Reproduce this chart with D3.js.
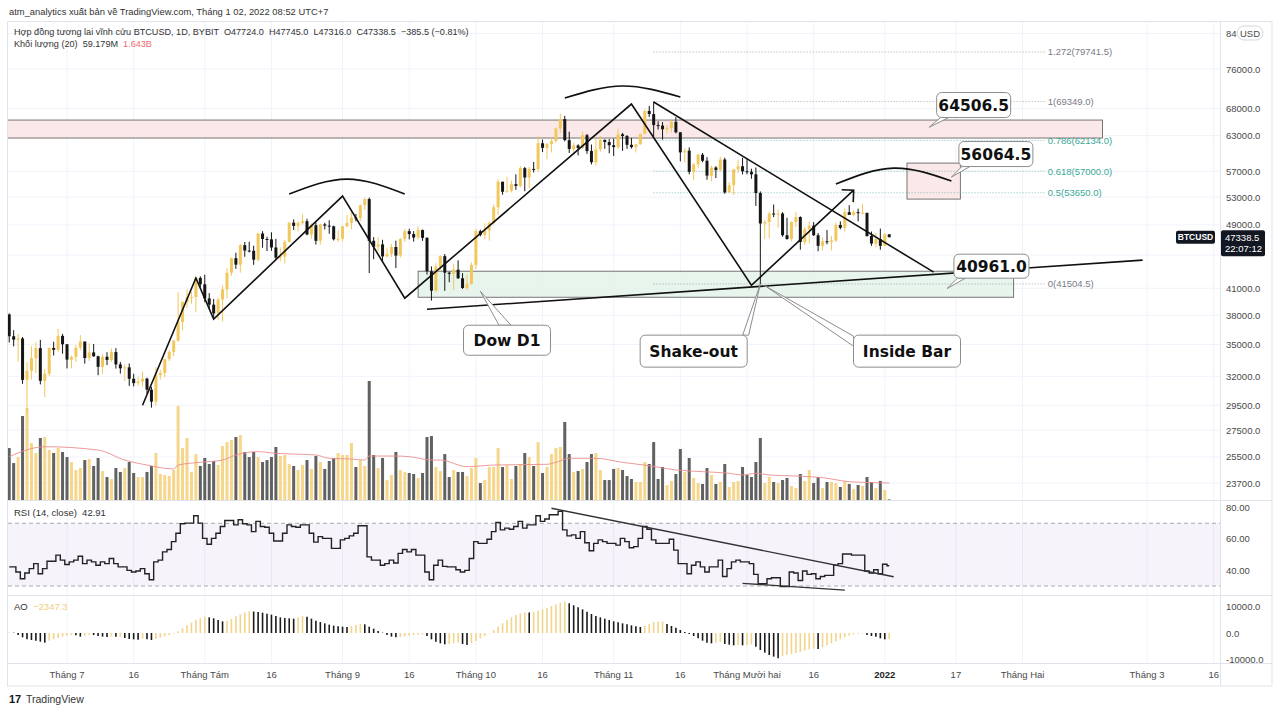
<!DOCTYPE html>
<html>
<head>
<meta charset="utf-8">
<script src="https://cdn.jsdelivr.net/npm/d3@7/dist/d3.min.js"></script>
<style>
  body { margin: 0; background: #fff; }
  svg { display: block; }
  text { font-family: "Liberation Sans", Arial, sans-serif; }
</style>
</head>
<body>
<svg id="chart" width="1280" height="713"></svg>
<script>
// ---- data (BTCUSD 1D, BYBIT) ----
const firstDay = "2021-06-18";

// [open, high, low, close] per day
const candles = [
  // Jun
  [38090,38200,35200,35820],[35820,36440,34820,35480],[35480,36060,33350,35600],[35600,35740,31330,31680],
  [31680,33300,28800,32500],[32500,34840,31700,33680],[33680,35230,32300,34640],[34640,35460,31280,31600],
  [31600,32680,30180,32240],[32240,34710,32000,34660],[34660,35270,33930,34480],[34480,36570,34270,35860],
  [35860,36050,34100,35020],
  // Jul
  [35020,35030,32720,33540],[33540,33940,32730,33800],[33800,34950,33330,34680],[34680,35940,34410,35290],
  [35290,35290,33160,33690],[33690,35110,33420,34230],[34230,35050,33800,33860],[33860,33910,32100,32870],
  [32870,34070,32260,33810],[33810,34250,33030,33510],[33510,34600,33330,34260],[34260,34640,32700,33090],
  [33090,33320,32250,32730],[32730,33100,31600,32820],[32820,33180,31150,31780],[31780,32230,31100,31390],
  [31390,31950,31170,31530],[31530,32430,31120,31790],[31790,31880,30450,30820],[30820,31060,29300,29800],
  [29800,32820,29480,32110],[32110,32590,31710,32310],[32310,33620,31900,33580],[33580,34480,33400,34280],
  [34280,35400,33880,35390],[35390,40550,35260,37280],[37280,39510,36450,39450],[39450,40890,38800,39990],
  [39990,40620,39250,40010],[40010,42300,38330,42210],[42210,42400,41150,41460],
  // Aug
  [41460,42600,39420,39850],[39850,40440,38700,39150],[39150,39780,37640,38190],[38190,39950,37520,39720],
  [39720,41340,37350,40870],[40870,43390,39850,42830],[42830,44700,42450,44620],[44620,45310,43300,43820],
  [43820,46450,42850,46290],[46290,46700,44800,45590],[45590,46750,45350,45560],[45560,46220,43800,44430],
  [44430,47880,44250,47830],[47830,48150,45960,47100],[47100,47400,45520,47050],[47050,48000,45560,45990],
  [45990,47120,44400,44700],[44700,46000,44220,44800],[44800,47000,43950,46720],[46720,49350,46640,49320],
  [49320,49770,48300,48870],[48870,49500,48120,49280],[49280,50500,49050,49520],[49520,49860,47600,47700],
  [47700,49220,47140,48960],[48960,49350,46370,46860],[46860,49170,46360,49080],[49080,49310,48380,48900],
  [48900,49650,47800,48810],[48810,48900,46900,47060],[47060,48240,46700,47130],
  // Sep
  [47130,48890,46790,48830],[48830,50370,48650,49280],[49280,51030,48400,50020],[50020,50550,49500,49940],
  [49940,51880,49500,51790],[51790,52900,51100,52700],[52700,52920,42800,46860],[46860,47350,44500,46080],
  [46080,47360,45500,46390],[46390,47000,44160,44850],[44850,45980,44730,45160],[45160,46460,44750,46050],
  [46050,46880,43400,44950],[44950,47250,44700,47100],[47100,48450,46700,48150],[48150,48480,47050,47760],
  [47760,48150,46760,47290],[47290,48800,47050,48300],[48300,48370,46850,47250],[47250,47340,42600,43010],
  [43010,43600,39600,40720],[40720,44000,40550,43580],[43580,44980,43090,44880],[44880,45150,40700,42840],
  [42840,42960,41700,42700],[42700,43920,40800,43200],[43200,44350,42100,42170],[42170,42780,40920,41030],
  [41030,42600,40780,41520],[41520,44100,41410,43790],
  // Oct
  [43790,48450,43300,48140],[48140,48360,47450,47660],[47660,49230,47100,48230],[48230,49500,46900,49250],
  [49250,51900,49050,51500],[51500,55750,50400,55340],[55340,55340,53350,53800],[53800,56100,53650,53960],
  [53960,55480,53700,54960],[54960,56500,54100,54690],[54690,57830,54450,57490],[57490,57680,53880,56000],
  [56000,57700,54300,57370],[57370,58500,56800,57350],[57350,62900,56850,61670],[61670,62300,60150,60880],
  [60880,61700,58950,61530],[61530,62650,60100,62040],[62040,64450,61800,64280],[64280,67000,63500,66000],
  [66000,66600,62000,62210],[62210,63700,60000,60690],[60690,61730,59700,61300],[61300,61480,59600,60860],
  [60860,63700,60700,63080],[63080,63300,59850,60330],[60330,61450,58100,58460],[58460,62500,57900,60590],
  [60590,62950,60200,62270],[62270,62300,60700,61880],[61880,62400,59950,61320],
  // Nov
  [61320,62450,59500,61000],[61000,64250,60700,63230],[63230,63500,60350,62930],[62930,63100,60700,61400],
  [61400,62600,60750,61000],[61000,61550,60100,61500],[61500,63300,61400,63300],[63300,67800,63300,67540],
  [67540,68500,66400,66950],[66950,69349,62800,64900],[64900,65600,64100,64810],[64810,65450,62300,64150],
  [64150,64950,63400,64380],[64380,65950,63600,65500],[65500,66350,63400,63600],[63600,63600,58600,60100],
  [60100,60800,58400,60400],[60400,60950,56500,56900],[56900,58350,55600,58100],[58100,59850,57450,59700],
  [59700,60000,58450,58700],[58700,59300,55650,56300],[56300,57900,55400,57600],[57600,57800,55900,57200],
  [57200,59400,57000,58900],[58900,59200,53500,53700],[53700,55300,53600,54800],[54800,57400,53300,57300],
  [57300,58900,56700,57800],[57800,59200,56500,57000],
  // Dec
  [57000,59100,56500,56900],[56900,57400,55800,56500],[56500,57600,51700,53600],[53600,53850,41504.5,49200],
  [49200,49700,47100,49400],[49400,50900,47200,50600],[50600,51900,50100,50500],[50500,51200,48600,50600],
  [50600,50800,47400,47600],[47600,50000,47000,47100],[47100,49500,46800,49400],[49400,50800,48700,50100],
  [50100,50200,45700,46700],[46700,48700,46300,48400],[48400,49500,46500,48900],[48900,49400,47500,47600],
  [47600,47900,45500,46200],[46200,47300,45600,46800],[46800,48300,46400,46700],[46700,47500,45600,46900],
  [46900,49300,46700,49000],[49000,49500,48400,48600],[48600,51300,48100,50800],[50800,51800,50500,50400],
  [50400,51100,50200,50800],[50800,51300,49500,50700],[50700,52000,50500,50700],[50700,50700,47400,47500],
  [47500,48100,46200,46500],[46500,47900,46000,47100],[47100,48500,45700,46200],
  // Jan
  [46200,47900,46200,47724],[47724,47745,47316,47338.5]
];

// daily volume, billions USD
const volumes = [
  5.02,3.57,4.15,8.12,8.89,5.51,4.54,5.99,6.09,4.83,4.54,5.02,4.64,
  4.15,3.67,2.90,3.09,3.86,3.96,3.29,4.06,2.80,2.22,2.03,3.09,2.71,3.09,3.67,2.61,2.22,2.22,2.71,3.29,4.54,2.51,2.42,2.32,2.90,9.08,5.02,5.99,2.71,4.44,3.29,
  4.06,3.48,3.77,3.38,5.22,5.60,5.80,6.09,6.28,4.64,4.15,4.64,4.15,3.67,3.86,4.15,5.12,4.25,4.35,3.48,3.29,2.90,3.38,3.86,3.00,4.25,3.67,3.00,3.77,4.06,4.54,
  4.35,4.35,5.51,3.19,3.86,3.29,11.5,4.35,3.09,4.06,1.93,2.42,4.64,2.90,2.71,2.61,2.51,2.13,2.61,6.09,6.18,3.19,2.80,4.44,2.22,2.90,2.71,2.71,2.32,3.09,
  4.06,1.64,1.93,3.19,3.19,5.02,3.19,3.38,2.03,3.29,3.48,4.54,4.15,3.29,5.60,2.61,3.19,4.44,5.02,5.12,7.54,4.44,2.71,2.80,3.00,3.67,4.44,4.54,2.90,1.93,1.93,
  3.00,3.09,2.90,2.32,2.03,1.74,1.74,3.67,3.48,5.60,2.03,3.19,1.45,1.84,2.51,4.93,2.71,4.06,2.13,1.64,1.55,3.09,2.42,1.55,1.74,3.48,1.26,1.74,1.84,3.19,
  2.42,2.22,3.67,5.99,1.64,2.22,1.74,1.64,1.93,2.13,1.35,1.16,2.51,1.84,2.90,1.64,2.22,1.16,1.74,1.74,1.64,1.26,1.84,1.55,1.06,1.45,1.35,2.22,1.74,1.16,1.84,
  0.97,0.059
];

// volume MA(20) read at [day index, billions]
const volumeMA = [
  [0,4.19],[8,5.15],[20,4.83],[26,3.86],[31,3.38],[37,3.0],[38,3.38],[43,3.64],[48,3.86],[51,4.35],
  [56,4.67],[60,4.51],[66,4.41],[69,4.35],[72,4.03],[77,3.96],[80,3.86],[81,4.25],[87,4.25],[90,4.19],
  [95,3.86],[97,3.86],[103,3.22],[109,3.38],[121,3.45],[123,3.64],[126,4.03],[132,4.03],[138,3.64],
  [144,3.31],[150,2.90],[156,2.74],[162,2.58],[165,2.42],[168,2.58],[171,2.42],[177,2.32],[183,2.16],
  [189,1.77],[195,1.67],[198,1.64]
];

// RSI(14, close) per day
const rsi = [
  42.2,42.2,38.9,34.6,38.3,41.1,44.3,37.8,41.1,45.8,45.8,49.7,46.5,
  43.7,45.4,46.5,49,44.3,46.5,45.4,43.2,45.4,44.3,47.5,44.3,42.2,42.2,40,38.9,39.6,41.1,37.8,34,45.4,46.5,51.8,53.3,58.3,63.7,69.7,70.1,70.1,74.8,70.1,
  60.4,56.6,60.4,63.7,68,71.8,71.8,69,72.3,69.7,69,64.7,71.2,68,67.5,63.7,58.7,58.7,63.7,69,68,67.5,69,69,63.7,58,61.5,60.4,60.4,54,54,
  59.4,60.4,62,63.7,68.4,68.4,48.6,46.5,46.5,43.2,44.3,46.5,44.7,50.8,53.3,51.8,53.3,49.7,49.7,38.9,34,43.2,46.5,42.5,42.2,42.2,40.4,38.9,40,47.5,
  58.3,57.2,57.2,59.8,64.7,70.5,65.8,66.9,66.2,68,71.2,66.9,69,69,74.8,71.2,72.7,75.5,75.5,77.6,65.8,62,62.6,60.4,64.7,57.6,52.5,57.2,59.4,58.3,57.2,
  57.2,56.1,60.4,58.3,54.4,55.1,60.4,68,66.2,59.4,57.2,57.2,57.2,59.8,52.9,44.3,44.3,37.8,43.2,45.4,42.2,38.9,42.2,42.2,46.5,36.1,41.1,45.4,46.5,45.4,
  45.4,44.3,37.4,31.4,31.4,34.6,35.3,35.3,29.7,29.7,38.9,38.3,33.5,39.6,37.4,37.8,34.6,36.1,36.8,36.8,43.2,44.3,50.4,50.4,49.7,49.7,49.7,39.6,38.3,40.4,37.8,
  43.9,42.91
];

// Awesome Oscillator per day
const ao = [
  250,130,-750,-1630,-2390,-2640,-2890,-3270,-3650,-2890,-2390,-1890,-1380,
  -1000,-750,-880,-1380,-1130,-630,-750,-1130,-1380,-1510,-1260,-1380,-1380,-1890,-2260,-2390,-2520,-2140,-2390,-2640,-2260,-1760,-1260,-750,-250,630,1760,2890,3900,4900,5660,
  6160,5910,5540,4900,4400,4650,5410,6290,7040,7670,8180,8100,7920,7670,7300,6920,6420,5910,5660,5540,5410,5910,6420,6160,5410,4650,4150,3650,3150,2770,2520,
  2390,2260,2640,3020,3400,3270,2390,1640,750,130,-750,-1380,-1640,-1510,-1260,-1000,-750,-630,-500,-1130,-2390,-3270,-3900,-4280,-4150,-3900,-3650,-4150,-4530,-3900,
  -3020,-2010,-1130,-130,1130,2390,3650,4900,5910,6790,7420,7800,7750,7920,8430,8930,9440,10190,10820,11450,11830,11200,10440,9690,8930,8050,7170,6420,5910,5410,4900,
  4400,4030,3650,3270,2890,2520,2260,2640,3400,4030,4280,4350,3400,2640,2010,1130,380,-380,-1130,-2010,-2890,-3650,-3900,-3650,-3400,-4150,-4400,-4650,-4530,-4650,
  -4530,-4280,-5160,-6420,-7420,-8300,-8930,-9500,-8680,-8300,-7920,-7550,-7170,-6670,-6160,-5910,-6040,-5410,-4650,-3900,-3150,-2390,-1640,-1000,-500,-250,-130,-750,-1130,-1380,-2010,
  -2390,-2347.3
];

// price grid levels; labels hidden behind the USD pill / last-price tag are shown as the reference shows them
const priceTicks = [84000, 76000, 68000, 63000, 57000, 53000, 49000, 45000, 41000, 38000, 35000, 32000, 29500, 27500, 25500, 23700];
const priceTickLabels = ["84", "76000.0", "68000.0", "63000.0", "57000.0", "53000.0", "49000.0", "", "41000.0", "38000.0", "35000.0", "32000.0", "29500.0", "27500.0", "25500.0", "23700.0"];
const timeTicks = [
  ["2021-07-01","Tháng 7"],["2021-07-16","16"],["2021-08-01","Tháng Tám"],["2021-08-16","16"],
  ["2021-09-01","Tháng 9"],["2021-09-16","16"],["2021-10-01","Tháng 10"],["2021-10-16","16"],
  ["2021-11-01","Tháng 11"],["2021-11-16","16"],["2021-12-01","Tháng Mười hai"],["2021-12-16","16"],
  ["2022-01-01","2022"],["2022-01-17","17"],["2022-02-01","Tháng Hai"],["2022-03-01","Tháng 3"],["2022-03-16","16"]
];
const rsiTicks = [80, 60, 40];
const aoTicks = [10000, 0, -10000];

// drawings, [date, price]
const zigzag = [["2021-07-18",29500],["2021-07-30",42200],["2021-08-03",37600],["2021-09-01",53150],
                ["2021-09-15",39870],["2021-11-05",68860],["2021-12-02",41350],["2021-12-25",54040]];
const trendDown = [["2021-11-10",69250],["2022-01-12",42900]];
const support = [["2021-09-20",38650],["2022-02-28",44380]];
const arcs = [
  [["2021-08-20",53450],["2021-09-02",55750],["2021-09-15",53450]],
  [["2021-10-21",70040],["2021-11-03",72440],["2021-11-16",70230]],
  [["2021-12-21",54970],["2022-01-03",57500],["2022-01-16",55440]]
];
const zones = [
  { from: "2021-06-01", to: "2022-02-19", lo: 62580, hi: 65830, kind: "red" },
  { from: "2021-09-18", to: "2022-01-30", lo: 39980, hi: 43020, kind: "green" },
  { from: "2022-01-06", to: "2022-01-18", lo: 52700, hi: 58320, kind: "red" }
];
const fibRange = ["2021-11-10", "2022-02-06"];
const fibLevels = [[1.272, 79741.5], [1, 69349.0], [0.786, 62134.0], [0.618, 57000.0], [0.5, 53650.0], [0, 41504.5]];
const callouts = [
  { text: "64506.5", at: ["2022-01-21", 68670], tail: ["2022-01-11", 64506.5] },
  { text: "56064.5", at: ["2022-01-26", 59820], tail: ["2022-01-16", 56064.5] },
  { text: "40961.0", at: ["2022-01-25", 43630], tail: ["2022-01-15", 40961.0] },
  { text: "Dow D1", at: ["2021-10-08", 35420], tail: ["2021-10-02", 40660] },
  { text: "Shake-out", at: ["2021-11-19", 34350], tail: ["2021-12-04", 41504.5] },
  { text: "Inside Bar", at: ["2022-01-06", 34350], tail: ["2021-12-05", 41300] }
];
const rsiLines = [
  [["2021-10-18", 79.6], ["2022-01-03", 35.9]],
  [["2021-11-30", 31.7], ["2021-12-23", 27.4]]
];

// ---- layout ----
const plot = { left: 8, right: 1220, top: 22, bottom: 500 };
const rsiPane = { top: 501, bottom: 595 };
const aoPane = { top: 596, bottom: 663 };
const axisEnd = 1272, frameBottom = 686;

const upColor = "#f2c75c", downColor = "#161616";
const volUp = "#f5d68a", volDown = "#616161";
const gridColor = "#f0f3fa", lineColor = "#e0e3eb", axisText = "#4a4a4a";

const parse = d3.utcParse("%Y-%m-%d");
const days = d3.utcDay.range(parse(firstDay), d3.utcDay.offset(parse(firstDay), candles.length));
const bars = days.map((d, i) => ({
  date: d, o: candles[i][0], h: candles[i][1], l: candles[i][2], c: candles[i][3],
  vol: volumes[i], rsi: rsi[i], ao: ao[i], aoUp: i === 0 ? true : ao[i] >= ao[i - 1]
}));

const x = d3.scaleUtc().domain([parse("2021-07-01"), parse("2022-03-01")]).range([67, 1147]);
const y = d3.scaleLog().domain([23700, 76000]).range([483, 69]);
const yVol = d3.scaleLinear().domain([0, 11.5]).range([500, 381]);
const yRsi = d3.scaleLinear().domain([30, 70]).range([586, 523.3]);
const yAo = d3.scaleLinear().domain([-10000, 10000]).range([659.5, 606.5]);
const px = p => [x(parse(p[0])), y(p[1])];

const svg = d3.select("#chart");
const defs = svg.append("defs");
function clip(id, y0, y1) {
  defs.append("clipPath").attr("id", id).append("rect")
    .attr("x", plot.left).attr("y", y0).attr("width", plot.right - plot.left).attr("height", y1 - y0);
}
clip("clipMain", plot.top, plot.bottom);
clip("clipRsi", rsiPane.top, rsiPane.bottom);
clip("clipAo", aoPane.top, aoPane.bottom);

// header
svg.append("text").attr("x", 9).attr("y", 15).style("font-size", "9.4px").style("fill", "#333")
  .text("atm_analytics xuất bản về TradingView.com, Tháng 1 02, 2022 08:52 UTC+7");

// grid
const grid = svg.append("g");
grid.selectAll("line.v").data(timeTicks).join("line")
  .attr("x1", d => x(parse(d[0]))).attr("x2", d => x(parse(d[0])))
  .attr("y1", plot.top).attr("y2", aoPane.bottom)
  .attr("stroke", gridColor);
grid.selectAll("line.h").data(priceTicks).join("line")
  .attr("x1", plot.left).attr("x2", plot.right)
  .attr("y1", d => y(d)).attr("y2", d => y(d))
  .attr("stroke", gridColor);

// frame and pane separators
svg.append("rect").attr("x", 7.5).attr("y", 21.5).attr("width", axisEnd - 7.5).attr("height", frameBottom - 21.5)
  .attr("fill", "none").attr("stroke", lineColor);
[plot.bottom + 0.5, rsiPane.bottom + 0.5, aoPane.bottom + 0.5].forEach(yy =>
  svg.append("line").attr("x1", 8).attr("x2", axisEnd).attr("y1", yy).attr("y2", yy).attr("stroke", lineColor));
svg.append("line").attr("x1", plot.right + 0.5).attr("x2", plot.right + 0.5).attr("y1", plot.top).attr("y2", frameBottom)
  .attr("stroke", lineColor);

// ---- main pane ----
const main = svg.append("g").attr("clip-path", "url(#clipMain)");

// zones
zones.forEach(z => {
  const x0 = x(parse(z.from)), x1 = x(parse(z.to));
  main.append("rect").attr("x", x0).attr("y", y(z.hi)).attr("width", x1 - x0).attr("height", y(z.lo) - y(z.hi))
    .attr("fill", z.kind === "red" ? "#fbe5e6" : "#e6f4ea").attr("fill-opacity", 0.9)
    .attr("stroke", "#555").attr("stroke-width", 0.8);
});

// fib levels
const fibColor = l => (l === 0 || l >= 1) ? "#787b86" : "#3aa796";
const fx0 = x(parse(fibRange[0])), fx1 = x(parse(fibRange[1]));
main.selectAll("line.fib").data(fibLevels).join("line")
  .attr("x1", fx0).attr("x2", fx1).attr("y1", d => y(d[1])).attr("y2", d => y(d[1]))
  .attr("stroke", d => fibColor(d[0])).attr("stroke-width", 0.8).attr("stroke-dasharray", "1,2").attr("opacity", 0.8);
main.selectAll("text.fib").data(fibLevels).join("text")
  .attr("x", fx1 + 3).attr("y", d => y(d[1]) + 3.5)
  .style("font-size", "9.5px").style("fill", d => fibColor(d[0]))
  .text(d => `${d[0]}(${d[1].toFixed(1)})`);

// volume
main.selectAll("rect.vol").data(bars).join("rect")
  .attr("x", d => x(d.date) - 1.5).attr("width", 3)
  .attr("y", d => yVol(d.vol)).attr("height", d => yVol(0) - yVol(d.vol))
  .attr("fill", d => d.c >= d.o ? volUp : volDown);
main.append("path").datum(volumeMA)
  .attr("d", d3.line().x(d => x(days[d[0]])).y(d => yVol(d[1])).curve(d3.curveMonotoneX))
  .attr("fill", "none").attr("stroke", "#ec8f8f").attr("stroke-width", 0.9);

// candles
main.selectAll("line.wick").data(bars).join("line")
  .attr("x1", d => x(d.date)).attr("x2", d => x(d.date))
  .attr("y1", d => y(d.h)).attr("y2", d => y(d.l))
  .attr("stroke", d => d.c >= d.o ? upColor : downColor).attr("stroke-width", 1);
main.selectAll("rect.body").data(bars).join("rect")
  .attr("x", d => x(d.date) - 1.5).attr("width", 3)
  .attr("y", d => y(Math.max(d.o, d.c)))
  .attr("height", d => Math.max(1, Math.abs(y(d.o) - y(d.c))))
  .attr("fill", d => d.c >= d.o ? upColor : downColor);

// drawings
const ink = { fill: "none", stroke: "#111", "stroke-width": 1.6 };
function draw(sel, attrs) { Object.entries(attrs).forEach(([k, v]) => sel.attr(k, v)); return sel; }
draw(main.append("path").attr("d", d3.line()(zigzag.map(px))), ink);
draw(main.append("path").attr("d", d3.line()(trendDown.map(px))), ink);
draw(main.append("path").attr("d", d3.line()(support.map(px))), ink);
arcs.forEach(a => draw(main.append("path").attr("d", d3.line().curve(d3.curveNatural)(a.map(px))), ink));
// arrow head on the last zigzag leg
{
  const [tx, ty] = px(zigzag[zigzag.length - 1]);
  const [sx, sy] = px(zigzag[zigzag.length - 2]);
  const ang = Math.atan2(sy - ty, sx - tx);
  const hd = [ang - Math.PI / 4, ang + Math.PI / 4].map(a => [tx + 12 * Math.cos(a), ty + 12 * Math.sin(a)]);
  draw(main.append("path").attr("d", `M${hd[0]}L${tx},${ty}L${hd[1]}`), ink);
}

// callouts
const boxSize = { "64506.5": [74, 25], "56064.5": [74, 25], "40961.0": [75, 24], "Dow D1": [87, 30], "Shake-out": [107, 32], "Inside Bar": [107, 32] };
const tailBase = {
  "64506.5": [[-33, 12.5], [-25, 12.5]], "56064.5": [[-34, 12.5], [-26, 12.5]], "40961.0": [[-34, 12], [-26, 12]],
  "Dow D1": [[-8, -15], [4, -15]], "Shake-out": [[49, -16], [55, -16]], "Inside Bar": [[-53.5, -15], [-53.5, -5]]
};
const callG = svg.append("g");
callouts.forEach(c => {
  const [cx, cy] = px(c.at), [tx, ty] = px(c.tail);
  const [w, h] = boxSize[c.text];
  const b = tailBase[c.text];
  callG.append("path")
    .attr("d", `M${tx},${ty}L${cx + b[0][0]},${cy + b[0][1]}L${cx + b[1][0]},${cy + b[1][1]}Z`)
    .attr("fill", "#fff").attr("stroke", "#8d8d8d").attr("stroke-width", 1);
  callG.append("rect").attr("x", cx - w / 2).attr("y", cy - h / 2).attr("width", w).attr("height", h)
    .attr("rx", 5).attr("fill", "#fff").attr("stroke", "#8d8d8d").attr("stroke-width", 1);
  callG.append("text").attr("x", cx).attr("y", cy + 5.5).attr("text-anchor", "middle")
    .style("font-family", "'DejaVu Sans', Verdana, sans-serif").style("font-weight", "bold")
    .style("font-size", "15.5px").style("fill", "#111").text(c.text);
});

// legend of main pane
const legend = svg.append("g").style("font-size", "9.1px").style("fill", "#333");
legend.append("text").attr("x", 14).attr("y", 35)
  .text("Hợp đồng tương lai vĩnh cửu BTCUSD, 1D, BYBIT  O47724.0  H47745.0  L47316.0  C47338.5  −385.5 (−0.81%)")
  .attr("xml:space", "preserve");
const vl = legend.append("text").attr("x", 14).attr("y", 47).attr("xml:space", "preserve");
vl.append("tspan").text("Khối lượng (20)  59.179M  ");
vl.append("tspan").style("fill", "#ef6c6c").text("1.643B");

// price axis
const axisG = svg.append("g").style("font-size", "9.5px").style("fill", axisText);
axisG.selectAll("text.p").data(priceTicks).join("text")
  .attr("x", 1226).attr("y", d => y(d) + 3.5).text((d, i) => priceTickLabels[i]);
// USD pill next to the top label
axisG.append("rect").attr("x", 1237).attr("y", 26).attr("width", 26).attr("height", 14).attr("rx", 7)
  .attr("fill", "#fff").attr("stroke", "#c8cbd3").attr("stroke-width", 0.8);
axisG.append("text").attr("x", 1250).attr("y", 36.5).attr("text-anchor", "middle").text("USD");

// last price tags
{
  const last = bars[bars.length - 1];
  const ly = y(last.c);
  svg.append("rect").attr("x", 1176).attr("y", ly - 6.5).attr("width", 39).attr("height", 13).attr("rx", 2).attr("fill", "#131722");
  svg.append("text").attr("x", 1195.5).attr("y", ly + 3.2).attr("text-anchor", "middle")
    .style("font-size", "8.5px").style("font-weight", "bold").style("fill", "#fff").text("BTCUSD");
  svg.append("rect").attr("x", 1221).attr("y", ly - 7).attr("width", 44).attr("height", 26).attr("rx", 2).attr("fill", "#131722");
  svg.append("text").attr("x", 1225).attr("y", ly + 3.5).style("font-size", "9.5px").style("fill", "#fff").text(last.c.toFixed(1));
  svg.append("text").attr("x", 1225).attr("y", ly + 15).style("font-size", "9.5px").style("fill", "#fff").text("22:07:12");
}

// ---- RSI pane ----
const rsiG = svg.append("g").attr("clip-path", "url(#clipRsi)");
rsiG.append("rect").attr("x", plot.left).attr("width", plot.right - plot.left)
  .attr("y", yRsi(70)).attr("height", yRsi(30) - yRsi(70)).attr("fill", "#7e57c2").attr("fill-opacity", 0.07);
[70, 30].forEach(v => rsiG.append("line").attr("x1", plot.left).attr("x2", plot.right)
  .attr("y1", yRsi(v)).attr("y2", yRsi(v)).attr("stroke", "#9598a1").attr("stroke-dasharray", "4,3").attr("stroke-width", 0.8));
rsiG.append("path").datum(bars)
  .attr("d", d3.line().x(d => x(d.date)).y(d => yRsi(d.rsi)).curve(d3.curveStep))
  .attr("fill", "none").attr("stroke", "#222").attr("stroke-width", 1.4);
rsiLines.forEach(l => rsiG.append("path")
  .attr("d", d3.line()(l.map(p => [x(parse(p[0])), yRsi(p[1])])))
  .attr("fill", "none").attr("stroke", "#333").attr("stroke-width", 1.4));
svg.append("text").attr("x", 14).attr("y", 516).style("font-size", "9.5px").style("fill", "#333")
  .attr("xml:space", "preserve").text("RSI (14, close)  42.91");
axisG.selectAll("text.r").data(rsiTicks).join("text")
  .attr("x", 1226).attr("y", d => yRsi(d) + 3.5).text(d => d.toFixed(2));

// ---- AO pane ----
const aoG = svg.append("g").attr("clip-path", "url(#clipAo)");
aoG.selectAll("line.ao").data(bars).join("line")
  .attr("x1", d => x(d.date)).attr("x2", d => x(d.date))
  .attr("y1", yAo(0)).attr("y2", d => yAo(d.ao))
  .attr("stroke", d => d.aoUp ? "#f3d48c" : "#1a1a1a").attr("stroke-width", 1.6);
const aol = svg.append("text").attr("x", 14).attr("y", 610).style("font-size", "9.5px").style("fill", "#333").attr("xml:space", "preserve");
aol.append("tspan").text("AO  ");
aol.append("tspan").style("fill", "#efcf83").text("−2347.3");
axisG.selectAll("text.a").data(aoTicks).join("text")
  .attr("x", 1226).attr("y", d => yAo(d) + 3.5).text(d => d.toFixed(1));

// ---- time axis ----
svg.append("g").selectAll("text").data(timeTicks).join("text")
  .attr("x", d => x(parse(d[0]))).attr("y", 678).attr("text-anchor", "middle")
  .style("font-size", "9.5px").style("fill", d => d[1] === "2022" ? "#222" : axisText)
  .style("font-weight", d => d[1] === "2022" ? "bold" : "normal")
  .text(d => d[1]);

// footer logo
svg.append("text").attr("x", 9).attr("y", 703).style("font-size", "11px").style("font-weight", "bold")
  .style("fill", "#131722").text("17");
svg.append("text").attr("x", 26).attr("y", 703).style("font-size", "10.5px").style("fill", "#333").text("TradingView");
</script>
</body>
</html>
